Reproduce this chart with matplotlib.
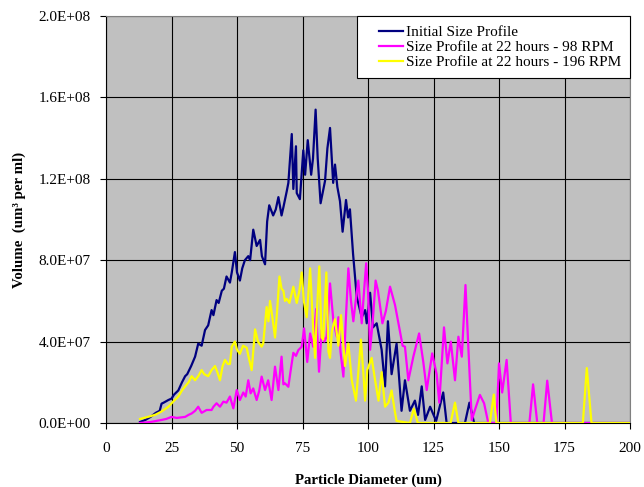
import matplotlib
matplotlib.use("Agg")
import matplotlib.pyplot as plt
from matplotlib.ticker import FuncFormatter
from matplotlib.legend_handler import HandlerLine2D
import numpy as np

plt.rcParams['font.family'] = ['Liberation Serif', 'DejaVu Serif']

# particle diameter (um) and volume (x 1E+07 um^3 per ml)
init_x = [13, 15, 17, 19, 20.5, 21.2, 22, 23.8, 25, 26, 27.6, 29, 30.2, 31, 32.5, 34, 35.2, 36.5,
          37.8, 39, 40.3, 41, 42.2, 43, 44.2, 45, 46, 47.3, 48, 49.2, 50, 51.1, 52, 53, 54.3, 55,
          56.2, 57.5, 58.8, 59.5, 60.7, 61.5, 62.3, 63.8, 64.8, 65.8, 67, 67.7, 69, 69.6, 70.9,
          71.5, 72.5, 72.8, 74, 75.3, 76, 77, 78.3, 79, 80, 80.8, 81.9, 83.6, 84.5, 85.5, 86.7,
          87.4, 88.3, 89.3, 90.3, 91.6, 92.4, 93.1, 94.3, 95.7, 97.6, 98.9, 99.5, 100.8, 101.9,
          103.3, 105.2, 106.5, 107.6, 109, 110.9, 112.8, 114.1, 116, 117.9, 119.1, 120.5, 121.8,
          123.7, 126, 128.7, 130, 137, 138.7, 140.5, 200]
init_y = [0.05, 0.15, 0.3, 0.5, 0.6, 0.95, 1.0, 1.13, 1.2, 1.4, 1.6, 2.0, 2.3, 2.4, 2.8, 3.26, 3.9, 3.8,
          4.57, 4.8, 5.55, 5.3, 6.04, 5.9, 6.5, 6.6, 7.2, 6.9, 7.4, 8.4, 7.4, 7.0, 7.6, 8.0, 8.2, 8.0,
          9.5, 8.7, 9.0, 8.2, 7.8, 9.9, 10.7, 10.2, 10.5, 11.1, 10.2, 10.6, 11.4, 11.8, 14.2,
          11.5, 13.6, 11.3, 11.0, 13.4, 12.2, 13.9, 12.2, 13.0, 15.4, 13.0, 10.8, 11.9, 13.5, 14.5, 11.8,
          12.7, 11.6, 10.9, 9.4, 10.96, 10.1, 10.5, 8.3, 6.2, 5.2, 5.55, 4.9, 6.4, 4.7,
          4.9, 3.6, 1.8, 5.0, 2.4, 3.9, 0.6, 2.1, 0.6, 1.1, 0.4, 1.8, 0.15,
          0.8, 0.1, 1.5, 0.0, 0.0, 1.0, 0.0, 0.0]

rpm98_x = [13, 17, 21.2, 23, 25, 27, 30.2, 31.5, 32.7, 34, 35.2, 36.5, 38.4, 40.3, 41, 42.2, 43.5,
           44.8, 46, 47.3, 48.6, 49.9, 51.1, 52.4, 53.3, 54.3, 55.2, 56.2, 57.5, 58.5, 59.4, 60.7,
           61.9, 63.2, 64.5, 65.8, 67, 67.7, 68.3, 69.6, 70.5, 71.5, 72.5, 73.4, 74.7, 75.6, 76.8,
           77.9, 79.1, 80.2, 81.3, 82.3, 83.3, 84.2, 85.5, 86.8, 88.1, 88.7, 89.5, 90.6, 91.5, 92.5,
           93.5, 94.4, 95.3, 96.3, 97.6, 98.5, 99.3, 100, 100.8, 101.8, 102.9, 103.8, 105.5, 106.8,
           108.4, 110.3, 112.2, 113.2, 114.1, 115.4, 117.3, 119.5, 121.1, 122.4, 124.5, 126.2,
           127.2, 129, 130.3, 131.6, 133.2, 134.5, 135.8, 137.2, 138.7, 139.6, 140.8, 142.7, 144.3,
           145.9, 149, 150, 151.2, 152.9, 154.5, 161.6, 163, 164.6, 167, 168.4, 170.2, 200]
rpm98_y = [0.0, 0.05, 0.15, 0.2, 0.3, 0.25, 0.3, 0.4, 0.47, 0.6, 0.8, 0.5, 0.64, 0.64, 0.8, 0.97, 0.8,
           1.05, 1.0, 1.3, 0.72, 1.62, 1.13, 1.5, 1.3, 2.1, 1.46, 1.7, 1.13, 1.6, 2.28, 1.62,
           2.1, 1.13, 2.77, 1.62, 3.26, 1.9, 1.95, 1.78, 2.6, 3.45, 3.3, 3.58, 3.75, 4.65, 3.0,
           4.4, 3.75, 5.6, 2.52, 4.57, 4.0, 4.24, 6.86, 5.0, 4.24, 5.2, 3.5, 2.28, 5.0, 7.6,
           6.0, 5.0, 6.0, 7.0, 4.9, 6.5, 7.85, 6.5, 3.6, 5.0, 7.0, 6.5, 4.9, 5.5,
           6.7, 5.8, 4.5, 3.8, 3.75, 2.1, 3.26, 4.4, 3.0, 1.62, 3.42, 2.4,
           1.0, 4.7, 2.93, 4.0, 2.1, 4.24, 3.26, 6.78, 2.6, 0.15, 0.64, 1.38, 0.97,
           0.0, 0.0, 2.93, 1.5, 3.1, 0.0, 0.0, 1.9, 0.0, 0.0, 2.08, 0.0, 0.0]

rpm196_x = [13, 16, 18.7, 21, 23.8, 26, 27.6, 29, 30.2, 31.5, 32.7, 34, 35.2, 36.5, 37.5, 39, 40.3,
            41.6, 42.5, 43.5, 44.5, 45.4, 46.5, 47.3, 48, 49.2, 50, 51.1, 52.3, 53.7, 54.5, 55.6,
            56.9, 58, 59.4, 60, 61.3, 62, 62.6, 63.5, 64.5, 65.3, 66.2, 67, 67.7, 68.3, 69, 70,
            71.5, 72.8, 73.8, 74.7, 75.5, 76.6, 77.9, 79.1, 79.8, 80.5, 81.4, 82.3, 82.9, 84.1,
            84.9, 85.5, 86.2, 87.4, 88.7, 89.7, 90.5, 91.2, 92.5, 93.8, 95.4, 96.3, 97.3, 98.2,
            98.9, 99.7, 101.4, 102.7, 104, 105.2, 106.5, 107.8, 109, 110.2, 110.9, 116, 117.5, 119,
            131.5, 133.2, 134.5, 146.5, 148, 149, 182, 183.5, 185.3, 200]
rpm196_y = [0.2, 0.3, 0.4, 0.55, 0.8, 1.1, 1.3, 1.6, 1.8, 2.0, 2.3, 2.1, 2.3, 2.6, 2.4, 2.3, 2.6,
            2.8, 2.5, 2.1, 2.8, 3.1, 2.9, 2.9, 3.75, 4.0, 3.6, 3.4, 3.8, 3.7, 3.2, 2.6,
            4.6, 4.0, 3.75, 3.9, 5.7, 5.0, 6.0, 5.2, 4.2, 5.5, 7.2, 6.6, 6.5, 6.0, 6.1, 5.9,
            6.7, 5.9, 6.5, 7.4, 6.0, 5.2, 7.6, 4.6, 3.2, 5.5, 7.7, 4.2, 4.1, 7.4,
            3.5, 3.2, 4.5, 5.1, 3.8, 5.3, 4.0, 2.8, 3.9, 2.1, 1.1, 2.5, 4.1, 2.5,
            1.1, 2.6, 3.2, 2.1, 1.1, 2.5, 0.8, 1.0, 1.6, 0.6, 0.1, 0.0, 0.7, 0.0,
            0.0, 1.0, 0.0, 0.0, 1.4, 0.0, 0.0, 2.7, 0.0, 0.0]

scale = 1e7


# legend line only over the right part of the handle box (Excel-style indent)
class IndentLine(HandlerLine2D):
    def get_xdata(self, legend, xdescent, ydescent, width, height, fontsize):
        xdata = np.array([-xdescent + width * 0.35, -xdescent + width])
        return xdata, xdata


fig = plt.figure(figsize=(6.44, 4.87), dpi=100)
ax = fig.add_axes([0.1646, 0.1314, 0.8137, 0.8357])
ax.set_facecolor("#C0C0C0")

ax.plot(init_x, np.array(init_y) * scale, color="#000080", lw=1.6, label="Initial Size Profile", zorder=3)
ax.plot(rpm98_x, np.array(rpm98_y) * scale, color="#FF00FF", lw=1.6, label="Size Profile at 22 hours - 98 RPM", zorder=4)
ax.plot(rpm196_x, np.array(rpm196_y) * scale, color="#FFFF00", lw=1.6, label="Size Profile at 22 hours - 196 RPM", zorder=5)

ax.set_xlim(0, 200)
ax.set_ylim(0, 2.0e8)
ax.set_xticks(np.arange(0, 201, 25))
ax.set_yticks(np.arange(0, 2.01e8, 4e7))
ax.yaxis.set_major_formatter(FuncFormatter(lambda v, p: f"{v:.1E}"))
ax.grid(True, color="black", lw=0.8)
ax.set_axisbelow(True)

for s in ["top", "right"]:
    ax.spines[s].set_color("#808080")
for s in ["left", "bottom"]:
    ax.spines[s].set_color("black")
ax.tick_params(direction="out", length=4, width=0.8, labelsize=11, colors="black")
ax.tick_params(axis="x", pad=10)
ax.tick_params(axis="y", pad=7)

ax.set_xlabel("Particle Diameter (um)", fontsize=10.7, fontweight="bold", labelpad=13)
ax.set_ylabel("Volume  (um\u00b3 per ml)", fontsize=10.7, fontweight="bold", labelpad=9)

leg = ax.legend(loc="upper right", bbox_to_anchor=(1.0, 1.0), borderaxespad=0, fontsize=11,
                frameon=True, fancybox=False, edgecolor="black", framealpha=1,
                handler_map={plt.Line2D: IndentLine()},
                handlelength=2.4, handletextpad=0.2, labelspacing=0.1, borderpad=0.6)
leg.get_frame().set_linewidth(0.8)
leg.set_zorder(10)

plt.savefig("out.png", dpi=100)
